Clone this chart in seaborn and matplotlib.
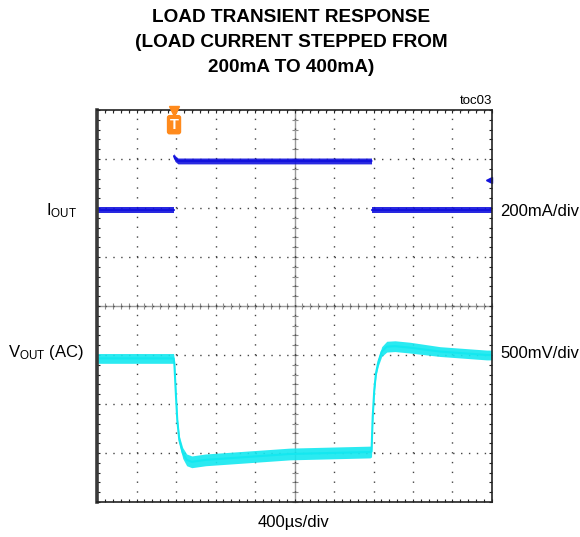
import numpy as np
import pandas as pd
import matplotlib
matplotlib.use("Agg")
import matplotlib.pyplot as plt
from matplotlib.ticker import MultipleLocator, NullFormatter
import seaborn as sns

sns.set_theme(style="white")
plt.rcParams["font.family"] = ["Liberation Sans", "DejaVu Sans"]
plt.rcParams["mathtext.default"] = "regular"
plt.rcParams["lines.scale_dashes"] = False
plt.rcParams["text.color"] = "black"

# ── Data read from the scope shot ─────────────────────────
# IOUT trace (mA), split into segments (edge is too fast to be drawn)
iout_time_us = [0, 775, 780, 790, 820, 2780, 2785, 4000]
iout_ma = [200, 200, 420, 410, 400, 400, 200, 200]
iout_seg = [0, 0, 1, 1, 1, 1, 2, 2]
iout_noise_ma = [12, 12, 12, 12, 12, 12, 12, 12]

# VOUT trace (AC coupled, mV relative to level before the step)
vout_time_us = [0, 775, 783, 800, 813, 833, 868, 908, 960, 1100, 1954, 2765,
                2780, 2792, 2808, 2825, 2849, 2883, 2934, 3018, 3170, 3473,
                3946, 4000]
vout_mv = [0, 0, -45, -390, -630, -830, -965, -1035, -1055, -1035, -975, -955,
           -950, -595, -320, -150, -35, 70, 120, 125, 110, 70, 35, 35]
vout_noise_mv = [50, 50, 40, 30, 30, 40, 55, 60, 60, 60, 60, 60,
                 55, 40, 30, 30, 40, 50, 55, 55, 55, 50, 50, 50]

trigger_us = 780

# scope settings
US_PER_DIV = 400
MA_PER_DIV = 200
MV_PER_DIV = 500
IOUT_POS_DIV = 0.96     # where 0 mA sits on screen
VOUT_POS_DIV = -1.07    # where the AC baseline sits on screen
IOUT_REF_DIV = 2.57     # channel marker on the right edge

BLUE = "#1212dd"
CYAN = "#14e8f0"
ORANGE = "#ff8a1c"

df_i = pd.DataFrame({
    "t": iout_time_us,
    "div": np.array(iout_ma) / MA_PER_DIV + IOUT_POS_DIV,
    "half": np.array(iout_noise_ma) / MA_PER_DIV,
    "seg": iout_seg,
})
df_v = pd.DataFrame({
    "t": vout_time_us,
    "div": np.array(vout_mv) / MV_PER_DIV + VOUT_POS_DIV,
    "half": np.array(vout_noise_mv) / MV_PER_DIV,
    "seg": 0,
})

# ── Figure ────────────────────────────────────────────────
W, H = 580, 537
fig = plt.figure(figsize=(W / 100, H / 100), dpi=100)
pos = [97 / W, 1 - 502 / H, 395 / W, 392 / H]

# background axes: centre crosshair with fine ticks
axc = fig.add_axes(pos)
axc.set_xlim(0, 10 * US_PER_DIV)
axc.set_ylim(-4, 4)
axc.patch.set_visible(False)
for s in ["top", "right"]:
    axc.spines[s].set_visible(False)
axc.spines["left"].set_position(("data", 5 * US_PER_DIV))
axc.spines["bottom"].set_position(("data", 0))
for s in ["left", "bottom"]:
    axc.spines[s].set_color("#9a9a9a")
    axc.spines[s].set_linewidth(1.0)
axc.xaxis.set_major_locator(MultipleLocator(US_PER_DIV))
axc.xaxis.set_minor_locator(MultipleLocator(US_PER_DIV / 5))
axc.yaxis.set_major_locator(MultipleLocator(1))
axc.yaxis.set_minor_locator(MultipleLocator(0.2))
axc.tick_params(which="both", direction="inout", length=5, width=0.8,
                color="#8a8a8a", labelbottom=False, labelleft=False,
                bottom=True, left=True)
axc.xaxis.set_major_formatter(NullFormatter())
axc.yaxis.set_major_formatter(NullFormatter())

# main axes
ax = fig.add_axes(pos)
ax.patch.set_alpha(0)
ax.set_xlim(0, 10 * US_PER_DIV)
ax.set_ylim(-4, 4)
ax.xaxis.set_major_locator(MultipleLocator(US_PER_DIV))
ax.xaxis.set_minor_locator(MultipleLocator(US_PER_DIV / 5))
ax.yaxis.set_major_locator(MultipleLocator(1))
ax.yaxis.set_minor_locator(MultipleLocator(0.2))
ax.xaxis.grid(True, color="#444", lw=1.0, linestyle=(0, (1.0, 6.06)))
ax.yaxis.grid(True, color="#444", lw=1.0, linestyle=(0, (1.0, 4.69)))
ax.tick_params(which="both", direction="in", length=2.5, width=0.8,
               color="#222", top=True, right=True, bottom=True, left=True,
               labelbottom=False, labelleft=False)
for s in ax.spines.values():
    s.set_color("#222")
    s.set_linewidth(1.2)
ax.spines["left"].set_linewidth(2.6)
ax.spines["left"].set_color("#3a3a3a")

# traces: noise band + centre line
for df, col in [(df_v, CYAN), (df_i, BLUE)]:
    for _, g in df.groupby("seg"):
        ax.fill_between(g["t"], g["div"] - g["half"], g["div"] + g["half"],
                        color=col, lw=0, alpha=0.9)
    sns.lineplot(data=df, x="t", y="div", units="seg", estimator=None,
                 color=col, lw=1.5, ax=ax, legend=False)
ax.set_xlabel("")
ax.set_ylabel("")

# trigger marker
ax.plot([trigger_us], [3.97], marker="v", ms=7, color=ORANGE, clip_on=False,
        zorder=5)
ax.text(trigger_us, 3.7, "T", ha="center", va="center", color="white",
        fontsize=10.5, fontweight="bold", zorder=6,
        bbox=dict(boxstyle="round,pad=0.14", fc=ORANGE, ec=ORANGE))

# channel reference marker on the right edge
ax.plot([10 * US_PER_DIV - 30, 10 * US_PER_DIV], [IOUT_REF_DIV] * 2,
        color=BLUE, lw=1.5, clip_on=False)
ax.plot([10 * US_PER_DIV - 35], [IOUT_REF_DIV], marker="<", ms=5,
        color=BLUE, clip_on=False)

# ── Texts ─────────────────────────────────────────────────
def ftxt(x, y, s, **kw):
    fig.text(x / W, 1 - y / H, s, **kw)

for i, line in enumerate(["LOAD TRANSIENT RESPONSE",
                          "(LOAD CURRENT STEPPED FROM",
                          "200mA TO 400mA)"]):
    ftxt(291, 18 + 24.5 * i, line, ha="center", va="center", fontsize=13.7,
         fontweight="bold")

ftxt(492, 101, "toc03", ha="right", va="center", fontsize=9.5)
ftxt(77, 211, r"I$_{OUT}$", ha="right", va="center", fontsize=12)
ftxt(84, 352, r"V$_{OUT}$ (AC)", ha="right", va="center", fontsize=12)
ftxt(500, 212, "200mA/div", ha="left", va="center", fontsize=12)
ftxt(500, 354, "500mV/div", ha="left", va="center", fontsize=12)
ftxt(293, 523, "400µs/div", ha="center", va="center", fontsize=12)

plt.savefig("out.png", dpi=100)
plt.close()
